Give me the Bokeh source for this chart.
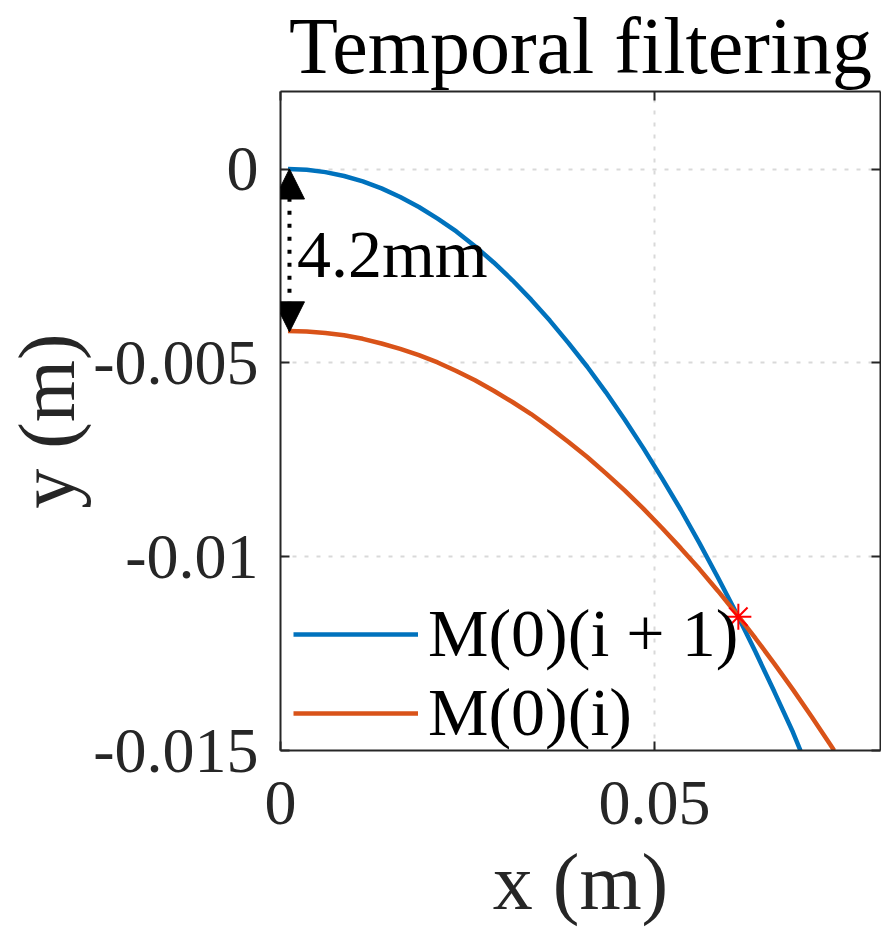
from bokeh.plotting import figure
from bokeh.models import (Range1d, LinearAxis, FixedTicker, Legend, LegendItem,
                          Arrow, NormalHead, Label, CustomJSTickFormatter)
from bokeh.embed import file_html
from bokeh.resources import INLINE

# ---- data ----
x_new = [0.001, 0.0035, 0.006, 0.0085, 0.011, 0.0135, 0.016, 0.0185, 0.021,
         0.0235, 0.026, 0.0285, 0.031, 0.0335, 0.036, 0.0385, 0.041, 0.0435,
         0.046, 0.0485, 0.051, 0.0535, 0.056, 0.0585, 0.061, 0.0635, 0.066,
         0.0685, 0.0695]
y_new = [0.0, -0.00002, -0.00008, -0.00018, -0.00032, -0.00050, -0.00072,
         -0.00098, -0.00128, -0.00161, -0.00199, -0.00241, -0.00287,
         -0.00337, -0.00391, -0.00449, -0.00510, -0.00576, -0.00646,
         -0.00720, -0.00798, -0.00879, -0.00965, -0.01055, -0.01148,
         -0.01246, -0.01348, -0.01453, -0.01500]

x_old = [0.001, 0.0035, 0.006, 0.0085, 0.011, 0.0135, 0.016, 0.0185, 0.021,
         0.0235, 0.026, 0.0285, 0.031, 0.0335, 0.036, 0.0385, 0.041, 0.0435,
         0.046, 0.0485, 0.051, 0.0535, 0.056, 0.0585, 0.061, 0.0635, 0.066,
         0.0685, 0.071, 0.0735, 0.074]
y_old = [-0.00418, -0.00419, -0.00423, -0.00429, -0.00438, -0.00450,
         -0.00464, -0.00480, -0.00499, -0.00521, -0.00545, -0.00572,
         -0.00601, -0.00632, -0.00667, -0.00704, -0.00743, -0.00785,
         -0.00829, -0.00876, -0.00926, -0.00978, -0.01032, -0.01089,
         -0.01149, -0.01211, -0.01276, -0.01343, -0.01413, -0.01485,
         -0.01500]

cross_x = [0.0612]
cross_y = [-0.01155]

gap_x = 0.0012
gap_top = 0.0
gap_bottom = -0.0042
gap_text = "4.2mm"

title_text = "Temporal filtering"
x_label = "x (m)"
y_label = "y (m)"
series_labels = ["M(0)(i + 1)", "M(0)(i)"]
x_ticks = [0, 0.05]
x_tick_labels = {0: "0", 0.05: "0.05"}
y_ticks = [-0.015, -0.01, -0.005, 0]
y_tick_labels = {-0.015: "-0.015", -0.01: "-0.01", -0.005: "-0.005", 0: "0"}

BLUE = "#0072BD"
ORANGE = "#D95319"
AX = "#262626"
FONT = "Liberation Serif"

p = figure(width=881, height=928, output_backend="svg", toolbar_location=None,
           x_range=Range1d(0, 0.0802), y_range=Range1d(-0.015, 0.002),
           min_border_left=280, min_border_right=1, min_border_top=91,
           min_border_bottom=178, title=title_text)
p.background_fill_color = "white"
p.border_fill_color = "white"
p.outline_line_color = None

p.title.text_font = FONT
p.title.text_font_size = "80px"
p.title.text_font_style = "normal"
p.title.text_color = "black"
p.title.align = "center"
p.title.vertical_align = "top"
p.title.standoff = 0
p.title.offset = 0

for ax in (p.xaxis[0], p.yaxis[0]):
    ax.axis_line_width = 2
    ax.axis_line_color = AX
    ax.major_tick_in = 9
    ax.major_tick_out = 0
    ax.major_tick_line_width = 2
    ax.major_tick_line_color = AX
    ax.minor_tick_line_color = None
    ax.major_label_text_font = FONT
    ax.major_label_text_font_size = "64px"
    ax.major_label_text_color = AX
    ax.axis_label_text_font = FONT
    ax.axis_label_text_font_size = "80px"
    ax.axis_label_text_font_style = "normal"
    ax.axis_label_text_color = AX

p.xaxis.ticker = FixedTicker(ticks=x_ticks)
p.xaxis.major_label_overrides = x_tick_labels
p.xaxis.major_label_standoff = 31
p.xaxis.axis_label = x_label
p.xaxis.axis_label_standoff = 11

p.yaxis.ticker = FixedTicker(ticks=y_ticks)
p.yaxis.major_label_overrides = y_tick_labels
p.yaxis.major_label_standoff = 22
p.yaxis.axis_label = y_label
p.yaxis.axis_label_standoff = -1

# box axes (top / right) with inward ticks and no labels
blank = CustomJSTickFormatter(code="return ''")
top = LinearAxis(ticker=FixedTicker(ticks=x_ticks), formatter=blank)
right = LinearAxis(ticker=FixedTicker(ticks=y_ticks), formatter=blank)
for ax in (top, right):
    ax.axis_line_width = 2
    ax.axis_line_color = AX
    ax.major_tick_in = 9
    ax.major_tick_out = 0
    ax.major_tick_line_width = 2
    ax.major_tick_line_color = AX
    ax.minor_tick_line_color = None
    ax.major_label_standoff = 0
    ax.major_label_text_font_size = "1px"
p.add_layout(top, "above")
p.add_layout(right, "right")

p.xgrid.ticker = FixedTicker(ticks=x_ticks)
p.ygrid.ticker = FixedTicker(ticks=y_ticks)
for g in (p.xgrid[0], p.ygrid[0]):
    g.grid_line_color = "#d9d9d9"
    g.grid_line_width = 2
    g.grid_line_dash = "4 8"

r_new = p.line(x_new, y_new, line_color=BLUE, line_width=4.5)
r_old = p.line(x_old, y_old, line_color=ORANGE, line_width=4.5)
p.scatter(cross_x, cross_y, marker="asterisk", size=26, line_color="red",
          line_width=2)

p.add_layout(Arrow(start=NormalHead(size=30, fill_color="black", line_color="black"),
                   end=NormalHead(size=30, fill_color="black", line_color="black"),
                   x_start=gap_x, y_start=gap_bottom, x_end=gap_x, y_end=gap_top,
                   line_color="black", line_width=4, line_dash="4 9"))
p.add_layout(Label(x=0.0022, y=-0.0012, text=gap_text, text_font=FONT,
                   text_font_size="68px", text_color="black",
                   text_baseline="top"))

legend = Legend(items=[LegendItem(label=series_labels[0], renderers=[r_new]),
                       LegendItem(label=series_labels[1], renderers=[r_old])],
                location=(13, -2), glyph_width=125, glyph_height=74,
                label_height=74, spacing=0, padding=0, margin=0,
                label_standoff=10, label_text_font=FONT,
                label_text_font_size="68px", label_text_color="black",
                background_fill_alpha=0, border_line_alpha=0)
p.add_layout(legend)

open("out.html", "w").write(file_html(p, INLINE))
